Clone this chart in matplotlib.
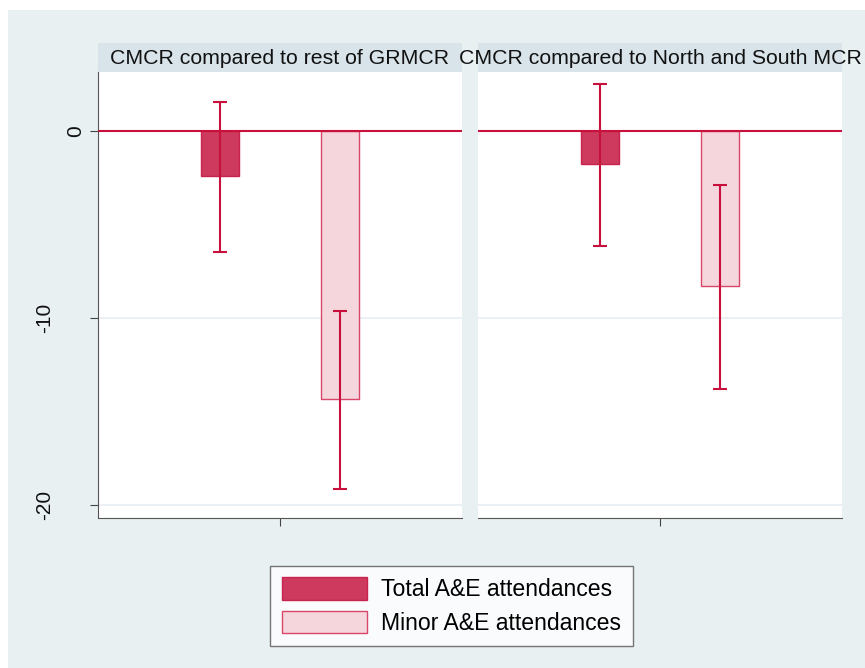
import numpy as np
import matplotlib.pyplot as plt
from matplotlib.patches import Rectangle, Patch
from matplotlib.transforms import offset_copy

plt.rcParams['font.family'] = ['Liberation Sans', 'DejaVu Sans']

# values
panels = ["CMCR compared to rest of GRMCR", "CMCR compared to North and South MCR"]
series = ["Total A&E attendances", "Minor A&E attendances"]
est = [[-2.4, -14.35], [-1.75, -8.3]]
lo = [[-6.45, -19.15], [-6.15, -13.8]]
hi = [[1.55, -9.65], [2.5, -2.9]]
yticks = [0, -10, -20]
ylabels = ['0', '-10', '-20']

bg = '#e8f0f2'
strip = '#d8e4ea'
red = '#c8103c'
fills = ['#cd3a5e', '#f5d6dd']
edges = ['#c8234e', '#d9466a']

W, H = 865, 668
fig = plt.figure(figsize=(W/100, H/100), dpi=100)
fig.patch.set_facecolor('white')
fig.add_artist(Rectangle((8/W, 0), 1, 1 - 10/H, transform=fig.transFigure,
                         facecolor=bg, edgecolor='none', zorder=-10))

lefts = [98, 478]
for i, name in enumerate(panels):
    ax = fig.add_axes([lefts[i]/W, (H-518)/H, 364/W, 446/H])
    ax.set_facecolor('white')
    x = np.array([1, 2])
    e = np.array(est[i])
    ax.bar(x, e, width=0.31, color=fills, edgecolor=edges, linewidth=1, zorder=3)
    ax.errorbar(x, e, yerr=[e - np.array(lo[i]), np.array(hi[i]) - e], fmt='none',
                ecolor=red, elinewidth=1.5, capsize=5, capthick=1.5, zorder=4)
    ax.axhline(0, color=red, lw=1.5, zorder=5)
    ax.set_xlim(-0.0167, 3.0167)
    ax.set_ylim(-20.7, 3.15)
    ax.set_yticks(yticks)
    ax.set_yticklabels([])
    ax.set_xticks([1.5])
    ax.set_xticklabels([''])
    ax.grid(axis='y', color='#e6eef1', lw=1.2, zorder=0)
    for s in ['top', 'right']:
        ax.spines[s].set_visible(False)
    ax.spines['bottom'].set_color('#555555')
    ax.tick_params(axis='x', length=6, color='#444444')
    if i == 0:
        ax.spines['left'].set_color('#555555')
        ax.tick_params(axis='y', length=6, color='#444444')
        # Stata puts the rotated labels at uneven distances from the axis
        for v, lab in zip(yticks, ylabels):
            dx = -22.5 if lab == '0' else -53.5
            tr = offset_copy(ax.get_yaxis_transform(), fig=fig, x=dx, y=0, units='dots')
            ax.text(0, v, lab, transform=tr, rotation=90, ha='center', va='center',
                    fontsize=15, color='#111111')
    else:
        ax.spines['left'].set_visible(False)
        ax.tick_params(axis='y', length=0)
    ax.add_patch(Rectangle((0, 1), 1, 29/446, transform=ax.transAxes,
                           facecolor=strip, edgecolor='none', clip_on=False))
    ax.text(0.5, 1 + 14/446, name, transform=ax.transAxes, ha='center', va='center',
            fontsize=15.3, color='#111111', clip_on=False)

handles = [Patch(facecolor=fills[k], edgecolor=edges[k], label=series[k]) for k in range(2)]
leg = fig.legend(handles=handles, loc='center', bbox_to_anchor=(451.5/W, (H-606)/H),
                 fontsize=16.6, frameon=True, fancybox=False, handlelength=3.7,
                 handleheight=1.1, handletextpad=0.6, borderpad=0.5, labelspacing=0.4)
leg.get_frame().set_edgecolor('#555555')
leg.get_frame().set_facecolor('white')
leg.get_frame().set_linewidth(1)

fig.savefig('out.png', dpi=100)
